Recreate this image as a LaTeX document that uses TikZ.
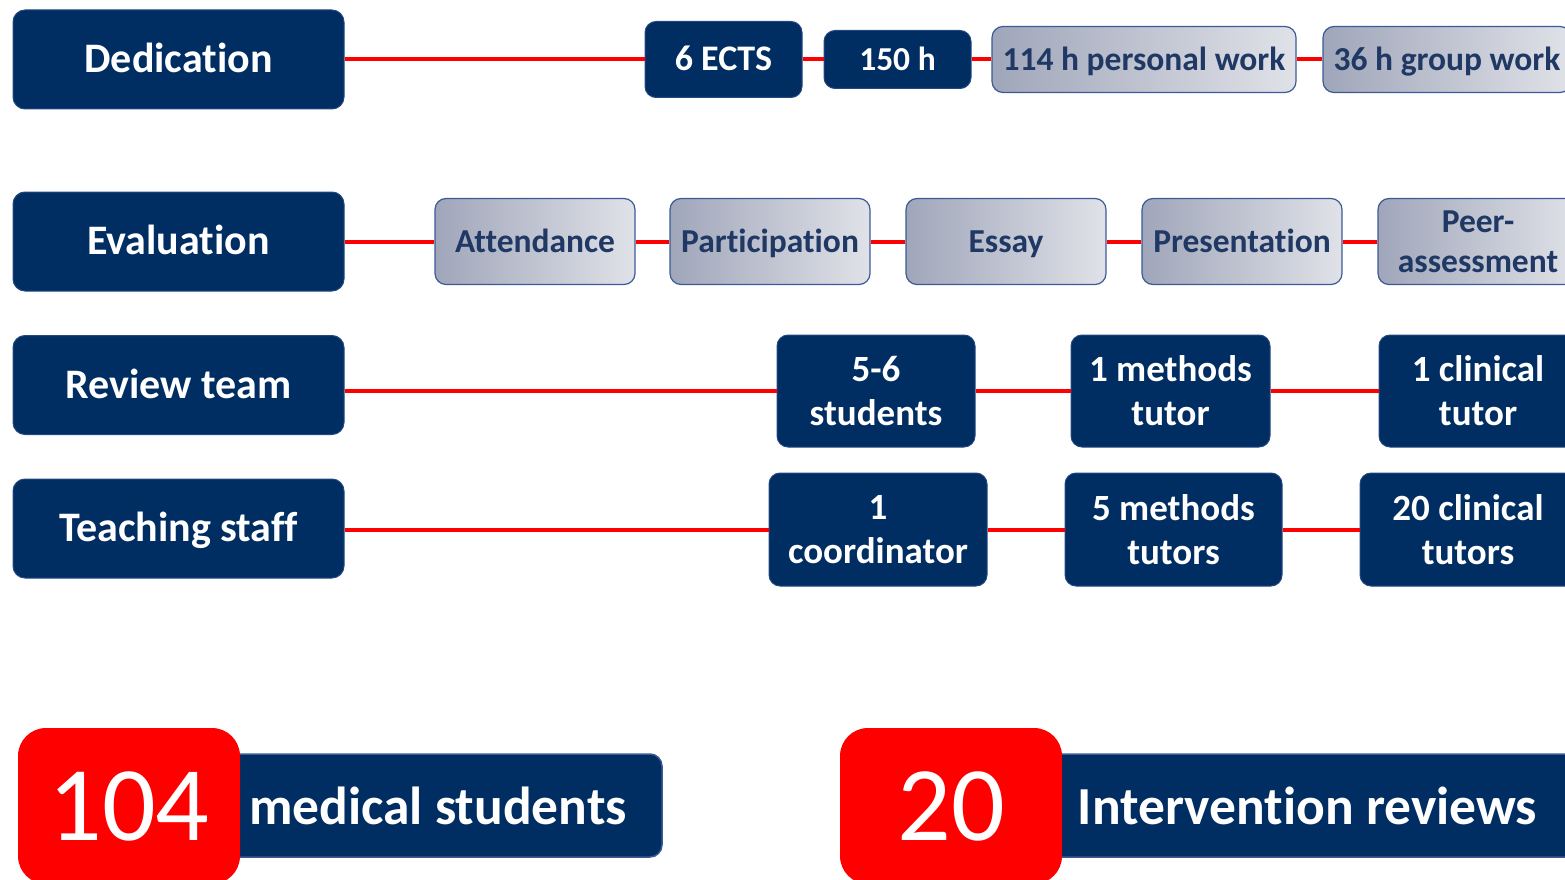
\documentclass[tikz,border=0pt]{standalone}
\usepackage{fontspec}
\setmainfont{Carlito}[Ligatures=NoCommon]
\definecolor{navy}{RGB}{0,45,98}
\definecolor{ink}{RGB}{31,56,100}
\definecolor{greyL}{RGB}{160,166,186}
\definecolor{greyR}{RGB}{224,226,232}
\definecolor{edge}{RGB}{60,90,150}

\begin{document}
\begin{tikzpicture}[x=1pt,y=-1pt,
	head/.style={rounded corners=12pt,fill=navy,draw=edge!60!navy,line width=1pt,text=white,font=\bfseries\fontsize{42}{48}\selectfont,minimum width=331pt,minimum height=99pt,inner sep=0pt,text height=33pt,text depth=6.5pt},
	dark/.style={rounded corners=11pt,fill=navy,draw=edge!60!navy,line width=1pt,text=white,font=\bfseries\fontsize{37}{44}\selectfont,align=center,inner sep=0pt},
	light/.style={rounded corners=11pt,left color=greyL,right color=greyR,draw=edge,line width=1.2pt,text=ink,font=\bfseries\fontsize{33.5}{40}\selectfont,align=center,inner sep=0pt},
	one/.style={text height=27.5pt,text depth=6pt},
	count/.style={rounded corners=28pt,fill=red,text=white,font=\fontsize{106}{110}\selectfont,minimum width=222pt,minimum height=156pt,inner sep=0pt},
	bar/.style={rounded corners=12pt,fill=navy,draw=edge,line width=1.5pt,text=white,font=\bfseries\fontsize{53.5}{60}\selectfont,minimum height=103pt,inner sep=0pt},
	link/.style={red,line width=4pt}]
\useasboundingbox (0,0) rectangle (1565,880);
\clip (0,0) rectangle (1565,880);

% headings
\node[head] at (178.5,59.5) (ded) {Dedication};
\node[head] at (178.5,241.5) (eva) {Evaluation};
\node[head] at (178.5,385) (rev) {Review team};
\node[head] at (178.5,528.5) (tea) {Teaching staff};

% dedication
\node[dark,one,minimum width=157pt,minimum height=76pt,font=\bfseries\fontsize{36}{44}\selectfont] at (723.5,59.5) (ects) {6 ECTS};
\node[dark,one,minimum width=147pt,minimum height=58pt,font=\bfseries\fontsize{33.5}{40}\selectfont] at (897.5,59.5) (hrs) {150 h};
\node[light,one,minimum width=304pt,minimum height=66pt] at (1144,59.5) (pers) {114 h personal work};
\node[light,one,minimum width=248pt,minimum height=66pt] at (1447,59.5) (grp) {36 h group work};
\draw[link] (ded) -- (ects);
\draw[link] (ects) -- (hrs);
\draw[link] (hrs) -- (pers);
\draw[link] (pers) -- (grp);

% evaluation
\foreach \x/\n/\t in {535/e1/Attendance,770/e2/Participation,1006/e3/Essay,1242/e4/Presentation}
{
	\node[light,one,minimum width=200pt,minimum height=86pt] at (\x,241.5) (\n) {\t};
}
\node[light,minimum width=200pt,minimum height=86pt] at (1478,241.5) (e5) {Peer-\\assessment};
\draw[link] (eva) -- (e1);
\foreach \a/\b in {e1/e2,e2/e3,e3/e4,e4/e5}
{
	\draw[link] (\a) -- (\b);
}

% review team
\node[dark,minimum width=198pt,minimum height=112pt] at (876,391) (r1) {5-6\\students};
\node[dark,minimum width=199pt,minimum height=112pt] at (1170.5,391) (r2) {1 methods\\tutor};
\node[dark,minimum width=198pt,minimum height=112pt] at (1478,391) (r3) {1 clinical\\tutor};
\draw[link] (rev.east |- r1) -- (r1);
\draw[link] (r1) -- (r2);
\draw[link] (r2) -- (r3);

% teaching staff
\node[dark,minimum width=218pt,minimum height=113pt] at (878,529.5) (t1) {1\\coordinator};
\node[dark,minimum width=217pt,minimum height=113pt] at (1173.5,529.5) (t2) {5 methods\\tutors};
\node[dark,minimum width=216pt,minimum height=113pt] at (1468,529.5) (t3) {20 clinical\\tutors};
\draw[link] (tea.east |- t1) -- (t1);
\draw[link] (t1) -- (t2);
\draw[link] (t2) -- (t3);

% totals
\node[bar,minimum width=448pt] at (438,805.5) (stud) {medical students};
\node[count] at (129,806) (n1) {104};
\node[bar,minimum width=543pt] at (1307.5,805.5) (revs) {Intervention reviews};
\node[count] at (951,806) (n2) {20};
\end{tikzpicture}
\end{document}
